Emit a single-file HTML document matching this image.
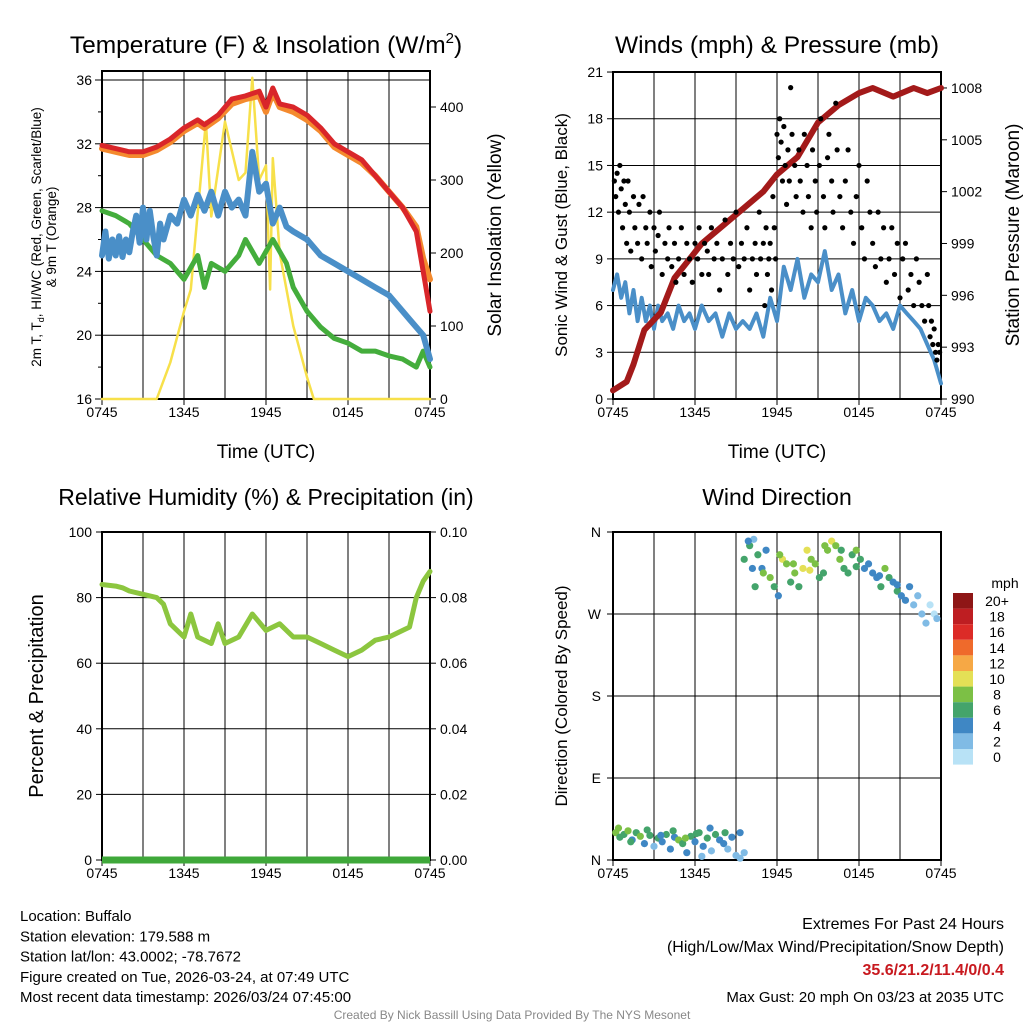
<!DOCTYPE html>
<html><head><meta charset="utf-8"><style>
body{margin:0;background:#fff;width:1024px;height:1024px;overflow:hidden}
svg{font-family:"Liberation Sans",sans-serif}
</style></head><body>
<svg id="s" width="1024" height="1024" xmlns="http://www.w3.org/2000/svg"></svg>
<script>
// ---- data (hours since 0745 UTC) ----
const tHours=[0,1,2,3,4,5,6,7,7.5,8.5,9.5,10.5,11.5,12,12.5,13,14,15,16,17,18,19,20,21,22,23,23.5,24];
const tRed=[31.9,31.7,31.5,31.5,31.8,32.3,33,33.5,33.2,33.8,34.8,35,35.3,34.3,35.5,34.5,34.3,33.8,33,32,31.5,31,30,29,28,26.5,24,21.5];
const tOrange=[31.7,31.5,31.3,31.3,31.6,32.1,32.8,33.3,33,33.6,34.5,34.8,35,34,35.2,34.3,34,33.5,32.8,31.8,31.3,30.8,30,29,28,26.8,24.8,23.5];
const blueHours=[0,0.25,0.5,0.75,1,1.25,1.5,1.75,2,2.25,2.5,2.75,3,3.25,3.5,3.75,4,4.25,4.5,5,5.5,6,6.5,7,7.5,8,8.5,9,9.5,10,10.5,11,11.5,12,12.5,13,13.5,14,15,16,17,18,19,20,21,22,22.5,23,23.5,24];
const tBlue=[25,26.5,24.8,26,25,26.2,24.9,26,25.2,26.5,27.5,25.8,28,26,27.8,26.2,25,27,26,27.5,27,28.5,27.5,28.8,27.8,29,27.5,29,28,28.5,27.5,31.5,29,29.5,27,28,26.8,26.5,26,25,24.5,24,23.5,23,22.5,21.5,21,20.5,20,18.5];
const greenHours=[0,1,2,3,4,5,6,7,7.5,8,9,10,10.5,11.5,12.5,13.5,14,15,16,17,18,19,20,21,22,23,23.5,24];
const tGreen=[27.8,27.5,27,26,25,24.5,23.5,25,23,24.5,24,25,26,24.5,26,24.5,23,21.5,20.5,19.8,19.5,19,19,18.7,18.5,18,19,18];
const solHours=[0,3.5,4,5,6,6.5,7.6,8,9,10,10.5,11,11.5,12,12.3,12.5,13,14,15,15.5,24];
const solar=[0,0,0,50,120,150,380,250,380,300,310,440,300,320,150,330,200,100,30,0,0];
const windHours=[0,0.3,0.6,0.9,1.2,1.5,1.8,2.1,2.4,2.7,3,3.3,3.6,4,4.4,4.8,5.2,5.6,6,6.5,7,7.5,8,8.5,9,9.5,10,10.5,11,11.5,12,12.5,13,13.5,14,14.5,15,15.5,16,16.5,17,17.5,18,18.5,19,19.5,20,20.5,21,21.5,22,22.5,23,23.5,24];
const wind=[7,8,6.5,7.5,5.5,7,5,6.5,5,6,4.5,6,5,5.5,4.5,6,5,5.5,4.5,6,5,5.5,4,5.5,4.5,5,4.5,5.5,4,6.5,5,8.5,7,9,6.5,8,7.5,9.5,7,8,5.5,7,5,6.5,6,5,5.5,4.5,6,5.5,5,4.5,3.5,2.5,1];
const presHours=[0,1,1.5,2.3,3.5,4.5,5.5,6.5,8,9.5,11,12,13.5,15,16.5,18,19,20.5,22,23,24];
const pressure=[990.5,991,992,994,995,997,998,999,1000,1001,1002,1003,1004,1006,1007,1007.7,1008,1007.5,1008,1007.7,1008];
const gustHours=[0.1,0.2,0.3,0.4,0.5,0.6,0.7,0.8,0.9,1.0,1.1,1.2,1.3,1.5,1.6,1.8,1.9,2.1,2.2,2.4,2.5,2.7,2.8,3.0,3.1,3.3,3.4,3.6,3.8,4.0,4.1,4.3,4.5,4.6,4.8,5.0,5.2,5.4,5.6,5.8,6,6.2,6.3,6.5,6.7,6.9,7,7.2,7.4,7.6,7.8,8,8.2,8.4,8.6,8.8,9,9.2,9.4,9.6,9.8,10,10.2,10.4,10.5,10.7,10.8,11,11.1,11.2,11.3,11.4,11.5,11.6,11.7,11.8,11.9,12,12.1,12.2,12.3,12.4,12.5,12.6,12.7,12.8,12.9,13,13.1,13.3,13.4,13.6,13.7,13.9,14,14.2,14.3,14.5,14.6,14.8,14.9,15.1,15.2,15.4,15.5,15.7,15.8,16,16.1,16.3,16.4,16.6,16.8,17,17.2,17.4,17.6,17.8,18,18.2,18.4,18.6,18.8,19,19.2,19.4,19.6,19.8,20,20.2,20.4,20.6,20.8,21,21.2,21.4,21.6,21.8,22,22.2,22.4,22.6,22.8,23,23.1,23.2,23.3,23.4,23.5,23.6,23.7,23.8,23.9];
const gust=[14,13,14.5,12,15,13.5,11,14,12.5,10,14,12,9.5,13,11,10,12.5,9,13,11,10,12,8.5,11,9.5,10.5,12,8,10,9,11,8.5,10,7.5,9,11,8,10,9,7.5,10,9,11,8,10,9.5,8,11,9,10,7,9,11.5,8,10,9,12,8.5,10,9,11,7,9,10,8,12,9,10,6,11,8,9,10,7,13,11,9,17,15.5,18,16.5,14,17.5,15,12.5,16,14,20,17,15,13,16,14,12,17,15,13,11,16,14,12,15,18,13,11,15.5,17,14,12,19,16,13,11,14,16,12,10,13,15,11,9,14,12,10,8.5,12,9,11,7.5,9,11,8,10,6.5,9,10,7,8,6,9,7.5,6,5,8,6,4,5,3.5,4.5,3,2.5,3.5,3];
const rhHours=[0,1,1.5,2,3,4,4.5,5,6,6.5,7,8,8.5,9,10,11,12,13,14,15,16,17,18,19,20,21,22,22.5,23,23.5,24];
const rh=[84,83.5,83,82,81,80,78,72,68,75,68,66,72,66,68,75,70,72,68,68,66,64,62,64,67,68,70,71,80,85,88];
const dirHours=[0.2,0.5,0.8,1.1,1.4,1.7,2,2.3,2.7,3,3.3,3.6,3.9,4.2,4.5,4.8,5.1,5.4,5.7,6,6.3,6.6,6.9,7.2,7.5,7.8,8.1,8.4,8.7,9,9.3,9.6,10,10.3,10.6,10.9,11.2,11.5,11.8,12.1,12.4,12.7,13,13.3,13.6,13.9,14.2,14.5,14.8,15.1,15.4,15.7,16,16.3,16.6,16.9,17.2,17.5,17.8,18.1,18.4,18.7,19,19.3,19.6,19.9,20.2,20.5,20.8,21.1,21.4,21.7,22,22.3,22.6,22.9,23.2,23.5,23.7,9.6,9.9,10.2,9.3,6.5,0.4,1.3,2.5,3.5,4.4,5.3,6.1,7.1,8.2,10.4,11,12.2,13.2,14.4,15.5,16.7,17.8,19.5,20.8];
const direction=[30,25,28,32,22,30,26,18,27,15,24,20,28,12,25,22,18,8,26,20,30,15,24,10,28,22,18,12,25,5,30,8,345,352,335,320,340,310,300,290,330,325,305,315,300,320,340,330,325,310,315,340,350,345,330,320,315,335,340,330,320,325,315,310,300,320,310,305,295,290,285,300,280,290,270,260,280,270,265,330,350,320,2,4,35,20,33,27,32,24,29,35,30,300,315,335,325,318,345,340,322,312,302];
const dirSpeed=[8,7,6,8,5,7,8,4,6,3,7,5,6,4,5,8,6,4,7,5,6,4,7,3,6,5,4,3,5,2,4,3,7,2,6,5,4,8,6,5,10,9,7,8,6,11,10,9,8,7,6,8,10,9,8,7,6,7,8,6,5,5,4,4,7,8,6,5,6,5,4,4,3,3,2,2,1,1,2,6,4,5,3,3,8,7,6,5,7,8,6,5,6,7,9,8,9,10,8,7,6,5,4];
const cbLabels=["20+","18","16","14","12","10","8","6","4","2","0"];
const cbColors=["#8e1616","#be1e22","#dc2b27","#ef6a2b","#f6a845","#e4e056","#7cc045","#44a46b","#3f87c4","#80bbe5","#b8e2f6"];

const s=document.getElementById('s');const NS='http://www.w3.org/2000/svg';
function el(t,a,p){const e=document.createElementNS(NS,t);for(const k in a)e.setAttribute(k,a[k]);(p||s).appendChild(e);return e;}
function tx(x,y,str,size,anchor,extra){const e=el('text',Object.assign({x:x,y:y,'font-size':size,'text-anchor':anchor||'middle',fill:'#000'},extra||{}));e.textContent=str;return e;}
function panel(name,x0,y0,w,h){
 const g=el('g',{});
 for(let i=1;i<8;i++){const x=x0+w*i/8;el('line',{x1:x,y1:y0,x2:x,y2:y0+h,stroke:'#000','stroke-width':1},g);}
 el('rect',{x:x0,y:y0,width:w,height:h,fill:'none',stroke:'#000','stroke-width':2},g);
 const lab=['0745','1345','1945','0145','0745'];
 for(let i=0;i<5;i++){const x=x0+w*i/4;el('line',{x1:x,y1:y0+h,x2:x,y2:y0+h+6,stroke:'#000'},g);const t=tx(x,y0+h+18,lab[i],14);g.appendChild(t);}
 return g;}
function polyline(xs,ys,fx,fy,color,sw,name){
 const pts=xs.map((h,i)=>fx(h).toFixed(1)+','+fy(ys[i]).toFixed(1)).join(' ');
 const p=el('polyline',{points:pts,fill:'none',stroke:color,'stroke-width':sw,'stroke-linejoin':'round','stroke-linecap':'round'});
 return p;}

// ---- Panel 1 ----
{const x0=102,y0=71,w=328,h=328;
 const fx=v=>x0+v/24*w, fy=v=>399-(v-16)*15.95, fs=v=>399-v*0.73;
 panel('temperature-panel',x0,y0,w,h);
 for(let v=16;v<=36;v+=2){const y=fy(v);el('line',{x1:x0-(v%4?4:7),y1:y,x2:x0,y2:y,stroke:'#000'});if(v%4==0){el('line',{x1:x0,y1:y,x2:x0+w,y2:y,stroke:'#000','stroke-width':1});tx(x0-10,y+5,String(v),14,'end');}}
 for(let v=0;v<=400;v+=100){const y=fs(v);el('line',{x1:x0+w,y1:y,x2:x0+w+6,y2:y,stroke:'#000'});tx(x0+w+10,y+5,String(v),14,'start');}
 polyline(solHours,solar,fx,fs,'#f7e04a',2.5,'solar-line');
 polyline(greenHours,tGreen,fx,fy,'#44ad3c',5,'dewpoint-line');
 polyline(blueHours,tBlue,fx,fy,'#4a8fc8',6,'windchill-line');
 polyline(tHours,tOrange,fx,fy,'#f48a2e',6,'temp-9m-line');
 polyline(tHours,tRed,fx,fy,'#d9262a',5,'temp-2m-line');
 const t=tx(266,53,'Temperature (F) & Insolation (W/m',24.5);const ts=el('tspan',{dy:-10,'font-size':15},t);ts.textContent='2';const t2=el('tspan',{dy:10},t);t2.textContent=')';
 tx(266,458,'Time (UTC)',19);
 const l1=tx(0,0,'2m T, T',13.5,'middle',{transform:'translate(41,237) rotate(-90)'});
 const sd=el('tspan',{dy:3,'font-size':9},l1);sd.textContent='d';
 const rest=el('tspan',{dy:-3},l1);rest.textContent=', HI/WC (Red, Green, Scarlet/Blue)';
 tx(0,0,'& 9m T (Orange)',13.5,'middle',{transform:'translate(56,237) rotate(-90)'});
 tx(0,0,'Solar Insolation (Yellow)',19,'middle',{transform:'translate(501,235) rotate(-90)'});}

// ---- Panel 2 ----
{const x0=613,y0=72,w=328,h=327;
 const fx=v=>x0+v/24*w, fy=v=>399-v*15.57, fp=v=>399-(v-990)*17.28;
 panel('winds-panel',x0,y0,w,h);
 for(let v=0;v<=21;v+=3){const y=fy(v);el('line',{x1:x0-6,y1:y,x2:x0,y2:y,stroke:'#000'});if(v>0&&v<21)el('line',{x1:x0,y1:y,x2:x0+w,y2:y,stroke:'#000'});tx(x0-10,y+5,String(v),14,'end');}
 for(let v=990;v<=1008;v+=3){const y=fp(v);el('line',{x1:x0+w,y1:y,x2:x0+w+6,y2:y,stroke:'#000'});tx(x0+w+10,y+5,String(v),14,'start');}
 polyline(windHours,wind,fx,fy,'#4a8fc8',4,'wind-line');
 polyline(presHours,pressure,fx,fp,'#a31a1a',6,'pressure-line');
 gustHours.forEach((hh,i)=>{const c=el('circle',{cx:fx(hh),cy:fy(gust[i]),r:2.6,fill:'#000'});});
 tx(777,53,'Winds (mph) & Pressure (mb)',24.5);
 tx(777,458,'Time (UTC)',19);
 tx(0,0,'Sonic Wind & Gust (Blue, Black)',17,'middle',{transform:'translate(567,235) rotate(-90)'});
 tx(0,0,'Station Pressure (Maroon)',19,'middle',{transform:'translate(1019,235) rotate(-90)'});}

// ---- Panel 3 ----
{const x0=102,y0=532,w=328,h=328;
 const fx=v=>x0+v/24*w, fy=v=>860-v*3.28;
 panel('humidity-panel',x0,y0,w,h);
 for(let v=0;v<=100;v+=20){const y=fy(v);el('line',{x1:x0-6,y1:y,x2:x0,y2:y,stroke:'#000'});if(v>0&&v<100)el('line',{x1:x0,y1:y,x2:x0+w,y2:y,stroke:'#000'});tx(x0-10,y+5,String(v),14,'end');
  el('line',{x1:x0+w,y1:y,x2:x0+w+6,y2:y,stroke:'#000'});tx(x0+w+10,y+5,(v/1000).toFixed(2),14,'start');}
 polyline(rhHours,rh,fx,fy,'#8cc63f',5,'rh-line');
 const pr=el('line',{x1:x0,y1:860,x2:x0+w,y2:860,stroke:'#3fa83a','stroke-width':7});
 tx(266,505,'Relative Humidity (%) & Precipitation (in)',23);
 tx(0,0,'Percent & Precipitation',20,'middle',{transform:'translate(43,696) rotate(-90)'});}

// ---- Panel 4 ----
{const x0=613,y0=532,w=328,h=328;
 const fx=v=>x0+v/24*w, fy=v=>860-v/360*h;
 const colorFor=sp=>cbColors[10-Math.min(10,Math.floor(sp/2))];
 panel('wind-direction-panel',x0,y0,w,h);
 ['N','E','S','W','N'].forEach((l,i)=>{const y=fy(i*90);el('line',{x1:x0-6,y1:y,x2:x0,y2:y,stroke:'#000'});if(i>0&&i<4)el('line',{x1:x0,y1:y,x2:x0+w,y2:y,stroke:'#000'});tx(x0-12,y+5,l,14,'end');});
 dirHours.forEach((hh,i)=>{const c=el('circle',{cx:fx(hh),cy:fy(direction[i]),r:3.6,fill:colorFor(dirSpeed[i])});});
 tx(777,505,'Wind Direction',23);
 tx(0,0,'Direction (Colored By Speed)',17,'middle',{transform:'translate(567,696) rotate(-90)'});
 const lg=el('g',{});
 tx(1005,588,'mph',14,'middle');
 cbLabels.forEach((l,i)=>{const y=593+i*15.6;el('rect',{x:953,y:y,width:20,height:15.6,fill:cbColors[i]},lg);tx(997,y+13,l,14,'middle');});}

// ---- footer ----
['Location: Buffalo','Station elevation: 179.588 m','Station lat/lon: 43.0002; -78.7672','Figure created on Tue, 2026-03-24, at 07:49 UTC','Most recent data timestamp: 2026/03/24 07:45:00'].forEach((l,i)=>tx(20,921+i*20.3,l,15,'start'));
tx(1004,929,'Extremes For Past 24 Hours',16,'end');
tx(1004,952,'(High/Low/Max Wind/Precipitation/Snow Depth)',16,'end');
tx(1004,975,'35.6/21.2/11.4/0/0.4',16,'end',{fill:'#c8191f','font-weight':'bold'});
tx(1004,1002,'Max Gust: 20 mph On 03/23 at 2035 UTC',15,'end');
tx(512,1019,'Created By Nick Bassill Using Data Provided By The NYS Mesonet',12,'middle',{fill:'#888'});
</script>
</body></html>
